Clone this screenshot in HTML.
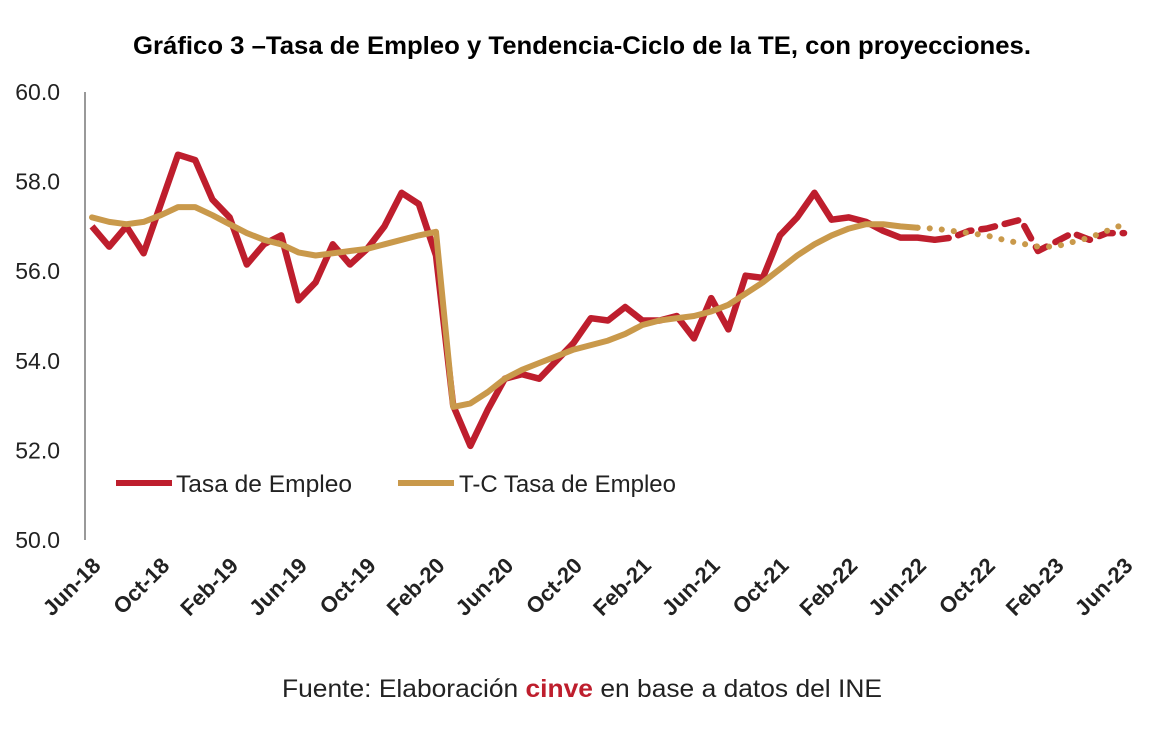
<!DOCTYPE html>
<html><head><meta charset="utf-8"><style>
body{margin:0;background:#fff;}
svg text{font-family:"Liberation Sans",sans-serif;}
</style></head><body>
<svg id="chart" width="1164" height="736" viewBox="0 0 1164 736" xmlns="http://www.w3.org/2000/svg">
<text x="582" y="54" text-anchor="middle" font-size="25" font-weight="bold" fill="#000" textLength="898" lengthAdjust="spacingAndGlyphs">Gráfico 3 –Tasa de Empleo y Tendencia-Ciclo de la TE, con proyecciones.</text>
<line x1="85" y1="92" x2="85" y2="540" stroke="#999" stroke-width="2"/>
<g id="yticks"></g><g id="xticks"></g><g id="series"></g>
<g>
<line x1="116" y1="483" x2="172" y2="483" stroke="#BE1E2D" stroke-width="6"/>
<text x="176" y="492" font-size="24" fill="#222" textLength="176" lengthAdjust="spacingAndGlyphs">Tasa de Empleo</text>
<line x1="398" y1="483" x2="454" y2="483" stroke="#C9994B" stroke-width="6"/>
<text x="459" y="492" font-size="24" fill="#222">T-C Tasa de Empleo</text>
</g>
<text x="582" y="697" text-anchor="middle" font-size="25" fill="#222" textLength="600" lengthAdjust="spacingAndGlyphs">Fuente: Elaboración <tspan fill="#BE1E2D" font-weight="bold">cinve</tspan> en base a datos del INE</text>
</svg>
<script>
const tickLabels=["Jun-18","Oct-18","Feb-19","Jun-19","Oct-19","Feb-20","Jun-20","Oct-20","Feb-21","Jun-21","Oct-21","Feb-22","Jun-22","Oct-22","Feb-23","Jun-23"];
const yTicks=[50,52,54,56,58,60];
const tasa=[57.0,56.55,57.0,56.4,57.5,58.6,58.48,57.6,57.2,56.15,56.6,56.8,55.35,55.75,56.6,56.15,56.5,57.0,57.75,57.5,56.35,53.0,52.1,52.9,53.6,53.7,53.6,54.0,54.4,54.95,54.9,55.2,54.9,54.9,55.0,54.5,55.4,54.7,55.9,55.85,56.8,57.2,57.75,57.15,57.2,57.1,56.9,56.75,56.75,56.7,56.75,56.9,56.95,57.05,57.15,56.45,56.65,56.85,56.7,56.85,56.85];
const tendencia=[57.2,57.1,57.05,57.1,57.25,57.43,57.43,57.25,57.05,56.85,56.7,56.6,56.42,56.35,56.4,56.45,56.5,56.6,56.7,56.8,56.88,52.97,53.05,53.3,53.6,53.8,53.95,54.1,54.25,54.35,54.45,54.6,54.8,54.9,54.95,55.0,55.1,55.25,55.5,55.75,56.05,56.35,56.6,56.8,56.95,57.05,57.05,57.0,56.97,56.95,56.9,56.85,56.8,56.7,56.62,56.55,56.55,56.65,56.75,56.9,57.05];
const projStart=49;
const ns="http://www.w3.org/2000/svg";
const x0=92,x1=1124,yTop=92,yBot=540,vMin=50,vMax=60;
function xs(i){return x0+i*(x1-x0)/(tasa.length-1);}
function ys(v){return yBot-(v-vMin)/(vMax-vMin)*(yBot-yTop);}
const yt=document.getElementById('yticks');
yTicks.forEach(v=>{const t=document.createElementNS(ns,'text');
t.setAttribute('x',60);t.setAttribute('y',ys(v)+8);t.setAttribute('text-anchor','end');t.setAttribute('font-size','23');t.setAttribute('fill','#222');


t.textContent=v.toFixed(1);yt.appendChild(t);});
const xt=document.getElementById('xticks');
tickLabels.forEach((l,k)=>{const x=xs(k*4)+10,y=567;const t=document.createElementNS(ns,'text');
t.setAttribute('x',x);t.setAttribute('y',y);t.setAttribute('text-anchor','end');t.setAttribute('font-size','22');t.setAttribute('font-weight','bold');t.setAttribute('fill','#222');
t.setAttribute('transform','rotate(-45 '+x+' '+y+')');


t.textContent=l;xt.appendChild(t);});
const sg=document.getElementById('series');
function pts(arr,a,b){let s=[];for(let i=a;i<=b;i++)s.push(xs(i).toFixed(1)+','+ys(arr[i]).toFixed(1));return s.join(' ');}
function line(arr,a,b,color,dash,cap,name,w){const p=document.createElementNS(ns,'polyline');
p.setAttribute('points',pts(arr,a,b));p.setAttribute('fill','none');p.setAttribute('stroke',color);p.setAttribute('stroke-width',w);p.setAttribute('stroke-linejoin','round');p.setAttribute('stroke-linecap',cap);
if(dash)p.setAttribute('stroke-dasharray',dash);


sg.appendChild(p);}
const n=tasa.length-1;
line(tasa,0,projStart,'#BE1E2D',null,'butt','tasa-line','6.5');
line(tasa,projStart,n,'#BE1E2D','14 10','round','tasa-projection-line','6.5');
line(tendencia,0,projStart-1,'#C9994B',null,'round','tc-line','6');
line(tendencia,projStart-1,n,'#C9994B','0.1 12','round','tc-projection-line','6');
</script>
</body></html>
